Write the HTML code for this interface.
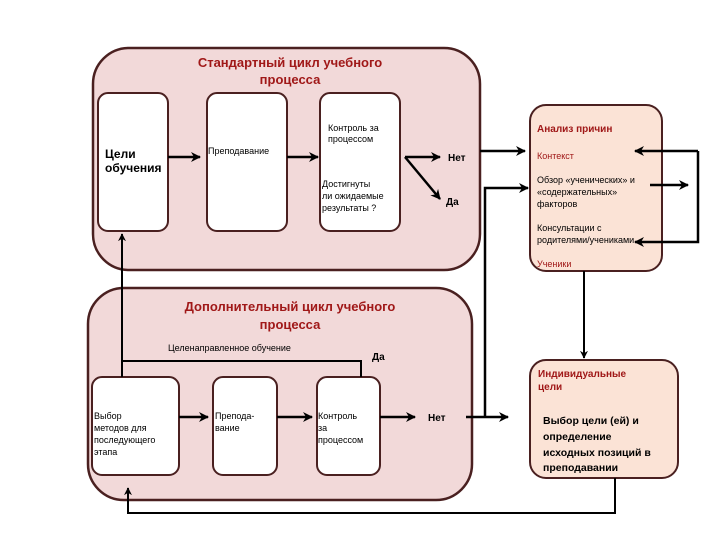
<!DOCTYPE html>
<html><head><meta charset="utf-8"><style>
body{margin:0;background:#fff}
svg{display:block}
text{font-family:"Liberation Sans",sans-serif}
</style></head><body>
<svg width="720" height="540" viewBox="0 0 720 540" xmlns="http://www.w3.org/2000/svg">
<defs>
<marker id="a" viewBox="0 0 10 10" refX="9" refY="5" markerWidth="4" markerHeight="4" orient="auto"><path d="M0,0 L10,5 L0,10 L3,5z" fill="#000"/></marker>
</defs>
<!-- top cycle -->
<rect x="93" y="48" width="387" height="222" rx="36" fill="#f2d9d9" stroke="#4a2020" stroke-width="2.5"/>
<text x="290" y="67" font-size="13" font-weight="bold" fill="#a01818" text-anchor="middle">Стандартный цикл учебного</text>
<text x="290" y="84" font-size="13" font-weight="bold" fill="#a01818" text-anchor="middle">процесса</text>
<rect x="98" y="93" width="70" height="138" rx="10" fill="#fff" stroke="#4a2020" stroke-width="2"/>
<rect x="207" y="93" width="80" height="138" rx="10" fill="#fff" stroke="#4a2020" stroke-width="2"/>
<rect x="320" y="93" width="80" height="138" rx="10" fill="#fff" stroke="#4a2020" stroke-width="2"/>
<text x="105" y="158" font-size="12" font-weight="bold">Цели</text>
<text x="105" y="172" font-size="12" font-weight="bold">обучения</text>
<text x="208" y="154" font-size="9">Преподавание</text>
<text x="328" y="131" font-size="9">Контроль за</text>
<text x="328" y="142" font-size="9">процессом</text>
<text x="322" y="187" font-size="9">Достигнуты</text>
<text x="322" y="199" font-size="9">ли ожидаемые</text>
<text x="322" y="211" font-size="9">результаты ?</text>
<text x="448" y="161" font-size="10" font-weight="bold">Нет</text>
<text x="446" y="205" font-size="10" font-weight="bold">Да</text>
<!-- analysis -->
<rect x="530" y="105" width="132" height="166" rx="16" fill="#fbe3d6" stroke="#4a2020" stroke-width="2"/>
<text x="537" y="132" font-size="10" font-weight="bold" fill="#a01818">Анализ причин</text>
<text x="537" y="159" font-size="9" fill="#a01818">Контекст</text>
<text x="537" y="183" font-size="9">Обзор «ученических» и</text>
<text x="537" y="195" font-size="9">«содержательных»</text>
<text x="537" y="207" font-size="9">факторов</text>
<text x="537" y="231" font-size="9">Консультации с</text>
<text x="537" y="243" font-size="9">родителями/учениками</text>
<text x="537" y="267" font-size="9" fill="#a01818">Ученики</text>
<!-- bottom cycle -->
<rect x="88" y="288" width="384" height="212" rx="36" fill="#f2d9d9" stroke="#4a2020" stroke-width="2.5"/>
<text x="290" y="311" font-size="13" font-weight="bold" fill="#a01818" text-anchor="middle">Дополнительный цикл учебного</text>
<text x="290" y="329" font-size="13" font-weight="bold" fill="#a01818" text-anchor="middle">процесса</text>
<text x="168" y="351" font-size="9">Целенаправленное обучение</text>
<text x="372" y="360" font-size="10" font-weight="bold">Да</text>
<rect x="92" y="377" width="87" height="98" rx="10" fill="#fff" stroke="#4a2020" stroke-width="2"/>
<rect x="213" y="377" width="64" height="98" rx="10" fill="#fff" stroke="#4a2020" stroke-width="2"/>
<rect x="317" y="377" width="63" height="98" rx="10" fill="#fff" stroke="#4a2020" stroke-width="2"/>
<text x="94" y="419" font-size="9">Выбор</text>
<text x="94" y="431" font-size="9">методов для</text>
<text x="94" y="443" font-size="9">последующего</text>
<text x="94" y="455" font-size="9">этапа</text>
<text x="215" y="419" font-size="9">Препода-</text>
<text x="215" y="431" font-size="9">вание</text>
<text x="318" y="419" font-size="9">Контроль</text>
<text x="318" y="431" font-size="9">за</text>
<text x="318" y="443" font-size="9">процессом</text>
<text x="428" y="421" font-size="10" font-weight="bold">Нет</text>
<!-- individual goals -->
<rect x="530" y="360" width="148" height="118" rx="16" fill="#fbe3d6" stroke="#4a2020" stroke-width="2"/>
<text x="538" y="377" font-size="10" font-weight="bold" fill="#a01818">Индивидуальные</text>
<text x="538" y="390" font-size="10" font-weight="bold" fill="#a01818">цели</text>
<text x="543" y="424" font-size="10.5" font-weight="bold">Выбор цели (ей) и</text>
<text x="543" y="440" font-size="10.5" font-weight="bold">определение</text>
<text x="543" y="456" font-size="10.5" font-weight="bold">исходных позиций в</text>
<text x="543" y="471" font-size="10.5" font-weight="bold">преподавании</text>
<!-- connectors -->
<g stroke="#000" stroke-width="2.5" fill="none">
<line x1="168" y1="157" x2="200" y2="157" marker-end="url(#a)"/>
<line x1="287" y1="157" x2="318" y2="157" marker-end="url(#a)"/>
<line x1="405" y1="157" x2="440" y2="157" marker-end="url(#a)"/>
<line x1="405" y1="157" x2="440" y2="199" marker-end="url(#a)"/>
<line x1="480" y1="151" x2="525" y2="151" marker-end="url(#a)"/>
<polyline points="485,417 485,188 528,188" marker-end="url(#a)"/>
<polyline points="698,151 698,242 635,242" marker-end="url(#a)"/>
<line x1="698" y1="151" x2="635" y2="151" marker-end="url(#a)"/>
<line x1="650" y1="185" x2="688" y2="185" marker-end="url(#a)"/>
<line x1="179" y1="417" x2="208" y2="417" marker-end="url(#a)"/>
<line x1="277" y1="417" x2="312" y2="417" marker-end="url(#a)"/>
<line x1="380" y1="417" x2="415" y2="417" marker-end="url(#a)"/>
<line x1="466" y1="417" x2="508" y2="417" marker-end="url(#a)"/>
</g>
<g stroke="#000" stroke-width="2" fill="none">
<polyline points="122,377 122,361 361,361 361,377"/>
<line x1="122" y1="361" x2="122" y2="234" marker-end="url(#a)"/>
<line x1="584" y1="271" x2="584" y2="358" marker-end="url(#a)"/>
<polyline points="615,478 615,513 128,513 128,488" marker-end="url(#a)"/>
</g>
</svg>
</body></html>
